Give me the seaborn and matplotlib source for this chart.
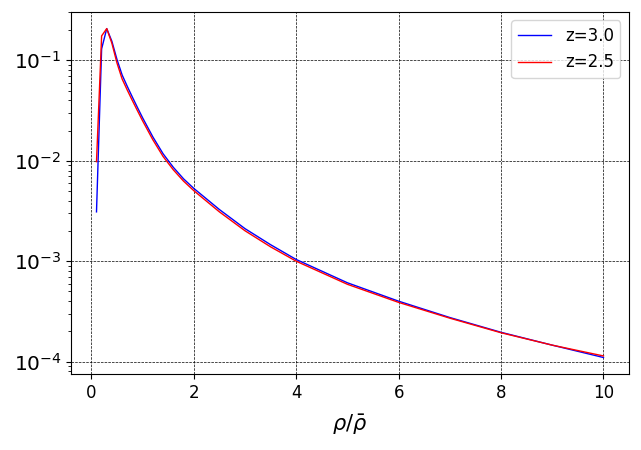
import numpy as np
import pandas as pd
import matplotlib
matplotlib.use('Agg')
import matplotlib.pyplot as plt
import seaborn as sns

# ── Data ──────────────────────────────────────────────────────────────────────
rho = [0.1, 0.2, 0.3, 0.4, 0.5, 0.6, 0.7, 0.8, 0.9, 1.0, 1.2, 1.4, 1.6, 1.8,
       2.0, 2.5, 3.0, 3.5, 4.0, 5.0, 6.0, 7.0, 8.0, 9.0, 10.0]

pdf_z30 = [0.0031, 0.130, 0.207, 0.155, 0.102, 0.0716, 0.0552, 0.0431,
           0.0339, 0.0268, 0.0173, 0.01175, 0.00861, 0.00661, 0.00531,
           0.00327, 0.00211, 0.00146, 0.00104, 0.00061, 0.00040, 0.000275,
           0.000196, 0.000146, 0.000110]

pdf_z25 = [0.0098, 0.175, 0.207, 0.148, 0.094, 0.0653, 0.0507, 0.0398,
           0.0315, 0.0250, 0.0162, 0.01104, 0.00813, 0.00627, 0.00504,
           0.00310, 0.00201, 0.00139, 0.00100, 0.000589, 0.000389,
           0.000271, 0.000194, 0.000146, 0.000114]

labels = ['z=3.0', 'z=2.5']
colors = ['blue', 'red']

df = pd.DataFrame({
    'rho': rho * 2,
    'pdf': pdf_z30 + pdf_z25,
    'z': [labels[0]] * len(rho) + [labels[1]] * len(rho),
})

# ── Plot ───────────────────────────────────────────────────────────────────────
fig, ax = plt.subplots(figsize=(6.41, 4.5), dpi=100)
fig.subplots_adjust(left=0.111, right=0.981, top=0.973, bottom=0.169)

sns.lineplot(data=df, x='rho', y='pdf', hue='z', palette=dict(zip(labels, colors)),
             linewidth=1.0, ax=ax, sort=False)

ax.set_yscale('log')
ax.grid(True, which='major', color='black', linestyle='--', linewidth=0.5)
ax.set_xlabel(r'$\rho/\bar{\rho}$', fontsize=15, labelpad=8)
ax.set_ylabel('')
ax.tick_params(axis='x', which='major', labelsize=12)
ax.tick_params(axis='y', which='major', labelsize=14.5)
ax.legend(loc='upper right', fontsize=12)

plt.savefig('out.png', dpi=100)
plt.close()
